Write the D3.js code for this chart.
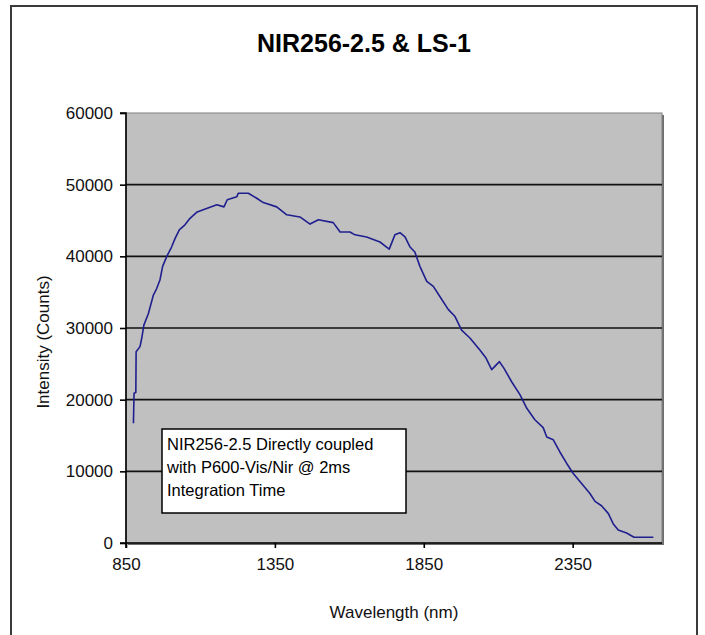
<!DOCTYPE html>
<html>
<head>
<meta charset="utf-8">
<script src="https://cdn.jsdelivr.net/npm/d3@7"></script>
<style>
  html, body { margin: 0; padding: 0; background: #fff; }
  svg { display: block; }
  text { font-family: "Liberation Sans", Arial, sans-serif; }
</style>
</head>
<body>
<svg id="chart" width="705" height="635"></svg>
<script>
// ---- data ----
const chartTitle = "NIR256-2.5 & LS-1";
const xAxisTitle = "Wavelength (nm)";
const yAxisTitle = "Intensity (Counts)";
const noteLines = ["NIR256-2.5 Directly coupled", "with P600-Vis/Nir @ 2ms", "Integration Time"];

const xTicks = [850, 1350, 1850, 2350];
const yTicks = [0, 10000, 20000, 30000, 40000, 50000, 60000];
const xDomain = [850, 2650];
const yDomain = [0, 60000];

const wavelength = [875, 877, 883, 884, 897, 903, 910, 925, 942, 953, 964, 973, 987, 1003, 1015, 1029, 1048, 1065, 1089, 1123,
  1155, 1179, 1190, 1222, 1227, 1261, 1289, 1311, 1356, 1390, 1434, 1468, 1496, 1546, 1569, 1602, 1619, 1658, 1703, 1725,
  1734, 1753, 1770, 1787, 1804, 1820, 1837, 1860, 1882, 1904, 1932, 1955, 1977, 2005, 2039, 2059, 2078, 2104, 2119, 2145,
  2173, 2196, 2223, 2251, 2263, 2285, 2307, 2330, 2352, 2380, 2408, 2425, 2447, 2470, 2486, 2503, 2531, 2556, 2621];
const intensity = [16700, 20900, 21000, 26700, 27400, 28600, 30400, 32000, 34600, 35500, 36700, 38600, 40000, 41300, 42500, 43700, 44400, 45300, 46200, 46700,
  47200, 46900, 47900, 48300, 48800, 48800, 48100, 47500, 46900, 45800, 45500, 44500, 45100, 44700, 43400, 43400, 43000, 42700, 42000, 41300,
  41000, 43000, 43300, 42700, 41300, 40600, 38600, 36500, 35800, 34400, 32600, 31600, 29700, 28600, 26900, 25800, 24200, 25300, 24400, 22500,
  20700, 18800, 17200, 16100, 14800, 14400, 12700, 11100, 9700, 8300, 6900, 5800, 5200, 4100, 2700, 1800, 1400, 800, 800];

// ---- layout ----
const plot = { left: 126, right: 662, top: 113, bottom: 543 };
const svg = d3.select("#chart");

svg.append("rect").attr("width", 705).attr("height", 635).attr("fill", "#fff");

// outer chart frame
svg.append("rect")
  .attr("x", 11).attr("y", 6).attr("width", 686).attr("height", 640)
  .attr("fill", "none").attr("stroke", "#3a3a3a").attr("stroke-width", 2);

const x = d3.scaleLinear().domain(xDomain).range([plot.left, plot.right]);
const y = d3.scaleLinear().domain(yDomain).range([plot.bottom, plot.top]);

// plot area shadow + background
svg.append("rect")
  .attr("x", plot.left + 2).attr("y", plot.top + 2)
  .attr("width", plot.right - plot.left).attr("height", plot.bottom - plot.top)
  .attr("fill", "#6e6e6e");
svg.append("rect")
  .attr("x", plot.left).attr("y", plot.top)
  .attr("width", plot.right - plot.left).attr("height", plot.bottom - plot.top)
  .attr("fill", "#c0c0c0").attr("stroke", "#808080").attr("stroke-width", 1);

// gridlines
svg.append("g").selectAll("line")
  .data(yTicks.filter(d => d > 0 && d < 60000))
  .join("line")
  .attr("x1", plot.left).attr("x2", plot.right)
  .attr("y1", d => y(d)).attr("y2", d => y(d))
  .attr("stroke", "#111").attr("stroke-width", 1.6);

// axes
const yAxis = d3.axisLeft(y).tickValues(yTicks).tickSize(6).tickPadding(7).tickFormat(d3.format("d"));
const gy = svg.append("g").attr("transform", `translate(${plot.left},0)`).call(yAxis);
const xAxis = d3.axisBottom(x).tickValues(xTicks).tickSize(5).tickPadding(10).tickFormat(d3.format("d"));
const gx = svg.append("g").attr("transform", `translate(0,${plot.bottom})`).call(xAxis);

[gx, gy].forEach(g => {
  g.select(".domain").attr("stroke", "#000").attr("stroke-width", 1.6);
  g.selectAll(".tick line").attr("stroke", "#000").attr("stroke-width", 1.6);
  g.selectAll(".tick text").attr("fill", "#111")
    .style("font-family", "'Liberation Sans', Arial, sans-serif").style("font-size", "17px");
});
gy.select(".domain").attr("d", `M-6,${plot.top}H0V${plot.bottom}H-6`);
gx.select(".domain").attr("d", `M${plot.left},5V0H${plot.right}`);

// data line
const line = d3.line().x((d, i) => x(wavelength[i])).y(d => y(d));
svg.append("path")
  .datum(intensity)
  .attr("d", line)
  .attr("fill", "none")
  .attr("stroke", "#1f1f8f")
  .attr("stroke-width", 1.6)
  .attr("stroke-linejoin", "round");

// annotation box
svg.append("rect")
  .attr("x", 162).attr("y", 429).attr("width", 244).attr("height", 84)
  .attr("fill", "#fff").attr("stroke", "#000").attr("stroke-width", 1.5);
svg.append("g").selectAll("text")
  .data(noteLines)
  .join("text")
  .attr("x", 167)
  .attr("y", (d, i) => 450 + i * 23)
  .attr("fill", "#000")
  .style("font-size", "16.5px")
  .text(d => d);

// titles
svg.append("text")
  .attr("x", 364).attr("y", 52)
  .attr("text-anchor", "middle")
  .attr("fill", "#000")
  .style("font-size", "25px").style("font-weight", "bold")
  .text(chartTitle);

svg.append("text")
  .attr("x", 394).attr("y", 618)
  .attr("text-anchor", "middle")
  .attr("fill", "#111")
  .style("font-size", "17px")
  .text(xAxisTitle);

svg.append("text")
  .attr("transform", "translate(49,342) rotate(-90)")
  .attr("text-anchor", "middle")
  .attr("fill", "#111")
  .style("font-size", "17px")
  .text(yAxisTitle);
</script>
</body>
</html>
